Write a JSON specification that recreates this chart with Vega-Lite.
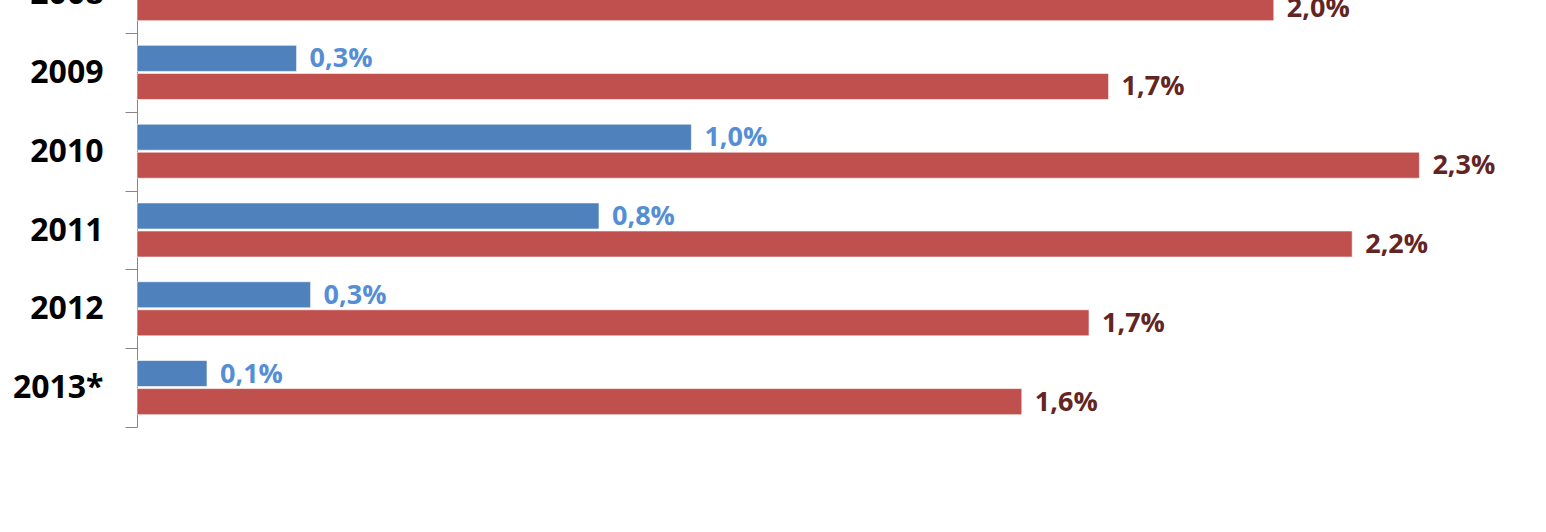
{
  "$schema": "https://vega.github.io/schema/vega-lite/v6.json",
  "width": 1400,
  "height": 532,
  "autosize": {"type": "none"},
  "padding": {"left": 137, "top": 0, "right": 9, "bottom": 0},
  "background": "white",
  "config": {"view": {"stroke": null}},
  "data": {
    "values": [
      {"year": "2008", "series": "A", "value": 0.62, "label": "0,6%"},
      {"year": "2008", "series": "B", "value": 2.03, "label": "2,0%"},
      {"year": "2009", "series": "A", "value": 0.285, "label": "0,3%"},
      {"year": "2009", "series": "B", "value": 1.735, "label": "1,7%"},
      {"year": "2010", "series": "A", "value": 0.99, "label": "1,0%"},
      {"year": "2010", "series": "B", "value": 2.29, "label": "2,3%"},
      {"year": "2011", "series": "A", "value": 0.825, "label": "0,8%"},
      {"year": "2011", "series": "B", "value": 2.17, "label": "2,2%"},
      {"year": "2012", "series": "A", "value": 0.31, "label": "0,3%"},
      {"year": "2012", "series": "B", "value": 1.70, "label": "1,7%"},
      {"year": "2013*", "series": "A", "value": 0.125, "label": "0,1%"},
      {"year": "2013*", "series": "B", "value": 1.58, "label": "1,6%"}
    ]
  },
  "encoding": {
    "y": {
      "field": "year",
      "type": "nominal",
      "sort": null,
      "title": null,
      "scale": {"range": [-45.8, 427], "paddingInner": 0, "paddingOuter": 0},
      "axis": {
        "tickBand": "extent",
        "tickSize": 12,
        "tickColor": "#868686",
        "domainColor": "#868686",
        "tickWidth": 1,
        "domainWidth": 1,
        "labelPadding": 22,
        "labelFont": "Open Sans",
        "labelFontWeight": "bold",
        "labelFontSize": 32,
        "labelColor": "#000000",
        "labelAlign": "right",
        "labelBaseline": "middle"
      }
    },
    "yOffset": {
      "field": "series",
      "type": "nominal",
      "sort": ["A", "B"],
      "scale": {"paddingInner": 0.07, "paddingOuter": 0.44}
    },
    "x": {
      "field": "value",
      "type": "quantitative",
      "scale": {"domain": [0, 2.5], "nice": false, "zero": true},
      "axis": null
    }
  },
  "layer": [
    {
      "mark": {"type": "bar", "stroke": "white", "strokeWidth": 1, "strokeOpacity": 0.6},
      "encoding": {
        "color": {
          "field": "series",
          "type": "nominal",
          "scale": {"domain": ["A", "B"], "range": ["#4F81BD", "#C0504D"]},
          "legend": null
        }
      }
    },
    {
      "mark": {
        "type": "text",
        "align": "left",
        "baseline": "middle",
        "dx": 13,
        "dy": 1,
        "font": "Open Sans",
        "fontWeight": "bold",
        "fontSize": 27
      },
      "encoding": {
        "text": {"field": "label", "type": "nominal"},
        "color": {
          "field": "series",
          "type": "nominal",
          "scale": {"domain": ["A", "B"], "range": ["#558ED5", "#632523"]},
          "legend": null
        }
      }
    }
  ],
  "resolve": {"scale": {"color": "independent"}}
}
